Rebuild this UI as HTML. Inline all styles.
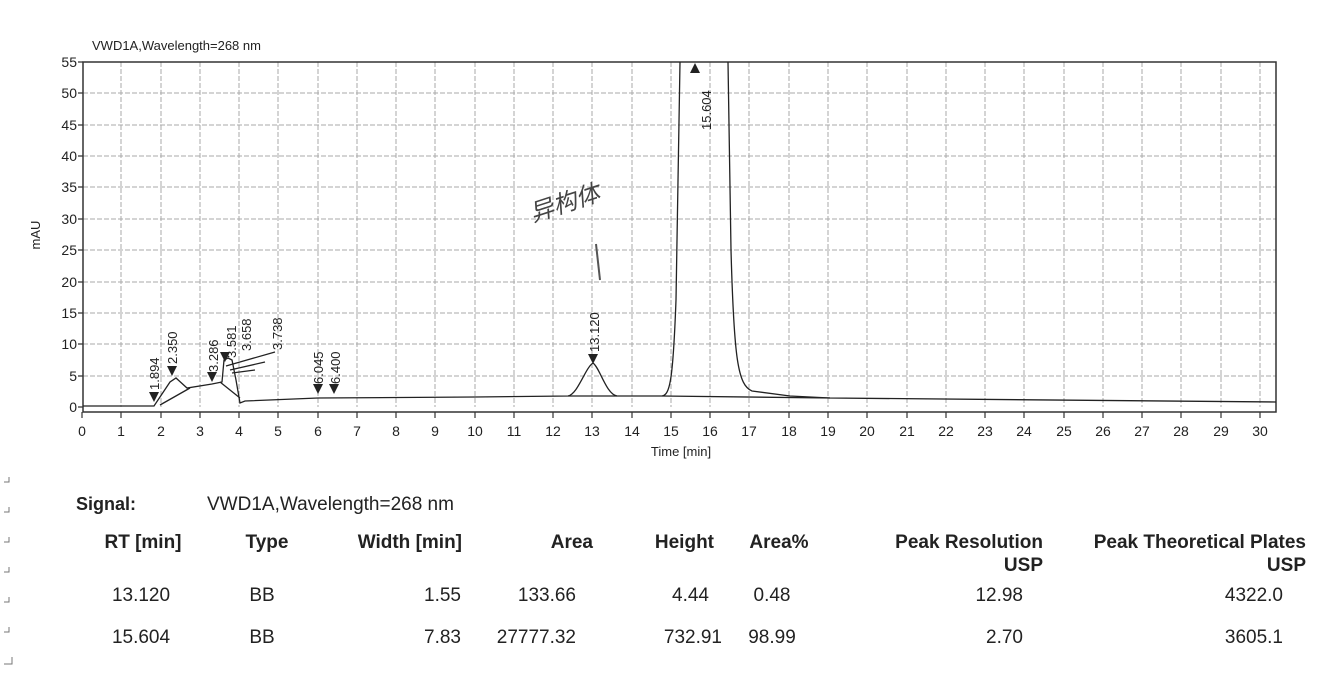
<!DOCTYPE html>
<html><head><meta charset="utf-8"><style>
html,body{margin:0;padding:0;background:#fff;}
svg{display:block;font-family:"Liberation Sans","Noto Sans CJK SC",sans-serif;}
</style></head><body>
<svg width="1339" height="691" viewBox="0 0 1339 691" xmlns="http://www.w3.org/2000/svg">
<rect width="1339" height="691" fill="#fff"/>
<text x="92" y="50" font-size="13" fill="#222">VWD1A,Wavelength=268 nm</text>
<g stroke="#aaa" stroke-width="1" stroke-dasharray="5,2">
<line x1="121" y1="62" x2="121" y2="407"/><line x1="161" y1="62" x2="161" y2="407"/><line x1="200" y1="62" x2="200" y2="407"/><line x1="239" y1="62" x2="239" y2="407"/><line x1="278" y1="62" x2="278" y2="407"/><line x1="318" y1="62" x2="318" y2="407"/><line x1="357" y1="62" x2="357" y2="407"/><line x1="396" y1="62" x2="396" y2="407"/><line x1="435" y1="62" x2="435" y2="407"/><line x1="475" y1="62" x2="475" y2="407"/><line x1="514" y1="62" x2="514" y2="407"/><line x1="553" y1="62" x2="553" y2="407"/><line x1="592" y1="62" x2="592" y2="407"/><line x1="632" y1="62" x2="632" y2="407"/><line x1="671" y1="62" x2="671" y2="407"/><line x1="710" y1="62" x2="710" y2="407"/><line x1="749" y1="62" x2="749" y2="407"/><line x1="789" y1="62" x2="789" y2="407"/><line x1="828" y1="62" x2="828" y2="407"/><line x1="867" y1="62" x2="867" y2="407"/><line x1="907" y1="62" x2="907" y2="407"/><line x1="946" y1="62" x2="946" y2="407"/><line x1="985" y1="62" x2="985" y2="407"/><line x1="1024" y1="62" x2="1024" y2="407"/><line x1="1064" y1="62" x2="1064" y2="407"/><line x1="1103" y1="62" x2="1103" y2="407"/><line x1="1142" y1="62" x2="1142" y2="407"/><line x1="1181" y1="62" x2="1181" y2="407"/><line x1="1221" y1="62" x2="1221" y2="407"/><line x1="1260" y1="62" x2="1260" y2="407"/>
<line x1="83" y1="93" x2="1276" y2="93"/><line x1="83" y1="125" x2="1276" y2="125"/><line x1="83" y1="156" x2="1276" y2="156"/><line x1="83" y1="187" x2="1276" y2="187"/><line x1="83" y1="219" x2="1276" y2="219"/><line x1="83" y1="250" x2="1276" y2="250"/><line x1="83" y1="282" x2="1276" y2="282"/><line x1="83" y1="313" x2="1276" y2="313"/><line x1="83" y1="344" x2="1276" y2="344"/><line x1="83" y1="376" x2="1276" y2="376"/>
</g>
<rect x="83" y="62" width="1193" height="350" fill="none" stroke="#333" stroke-width="1.5"/>
<g stroke="#333" stroke-width="1.2">
<path d="M78,62H83M78,93H83M78,125H83M78,156H83M78,187H83M78,219H83M78,250H83M78,282H83M78,313H83M78,344H83M78,376H83M78,407H83"/>
<path d="M82,412V418M121,412V418M161,412V418M200,412V418M239,412V418M278,412V418M318,412V418M357,412V418M396,412V418M435,412V418M475,412V418M514,412V418M553,412V418M592,412V418M632,412V418M671,412V418M710,412V418M749,412V418M789,412V418M828,412V418M867,412V418M907,412V418M946,412V418M985,412V418M1024,412V418M1064,412V418M1103,412V418M1142,412V418M1181,412V418M1221,412V418M1260,412V418"/>
</g>
<g font-size="14" fill="#222" text-anchor="end">
<text x="77" y="67">55</text><text x="77" y="98">50</text><text x="77" y="130">45</text><text x="77" y="161">40</text><text x="77" y="192">35</text><text x="77" y="224">30</text><text x="77" y="255">25</text><text x="77" y="287">20</text><text x="77" y="318">15</text><text x="77" y="349">10</text><text x="77" y="381">5</text><text x="77" y="412">0</text>
</g>
<text transform="translate(40,235) rotate(-90)" font-size="13" fill="#222" text-anchor="middle">mAU</text>
<g font-size="14" fill="#222" text-anchor="middle">
<text x="82" y="436">0</text><text x="121" y="436">1</text><text x="161" y="436">2</text><text x="200" y="436">3</text><text x="239" y="436">4</text><text x="278" y="436">5</text><text x="318" y="436">6</text><text x="357" y="436">7</text><text x="396" y="436">8</text><text x="435" y="436">9</text><text x="475" y="436">10</text><text x="514" y="436">11</text><text x="553" y="436">12</text><text x="592" y="436">13</text><text x="632" y="436">14</text><text x="671" y="436">15</text><text x="710" y="436">16</text><text x="749" y="436">17</text><text x="789" y="436">18</text><text x="828" y="436">19</text><text x="867" y="436">20</text><text x="907" y="436">21</text><text x="946" y="436">22</text><text x="985" y="436">23</text><text x="1024" y="436">24</text><text x="1064" y="436">25</text><text x="1103" y="436">26</text><text x="1142" y="436">27</text><text x="1181" y="436">28</text><text x="1221" y="436">29</text><text x="1260" y="436">30</text>
</g>
<text x="681" y="456" font-size="13" fill="#222" text-anchor="middle">Time [min]</text>
<g fill="none" stroke="#222" stroke-width="1.3">
<path d="M83,406 L154,406 L170,382 L176,378 L187,388 L212,384 L222,382 L224,360 L228,358 L232,360 L236,380 L240,403 L245,401 L318,398 L475,397 L568,396 C578,394 585,368 593,363 C600,368 606,394 617,396 L662,396 C670,395 673,380 676,300 L680,62 M728,62 L731,250 C734,360 738,385 752,391 L790,396 L830,398 L1276,402"/>
<path d="M160,405 L190,388 M220,382 L240,398 M226,366 L275,352 M230,370 L265,362 M232,373 L255,370 M568,396 L617,396 M662,396 L830,398"/>
<path d="M596,244 L600,280" stroke="#555" stroke-width="2"/>
</g>
<g fill="#222">
<path d="M149,392 L159,392 L154,402Z"/><path d="M167,366 L177,366 L172,376Z"/><path d="M207,372 L217,372 L212,382Z"/><path d="M220,352 L230,352 L225,362Z"/><path d="M313,384 L323,384 L318,394Z"/><path d="M329,384 L339,384 L334,394Z"/><path d="M588,354 L598,354 L593,364Z"/><path d="M690,73 L700,73 L695,63Z"/>
</g>
<g font-size="13" fill="#222">
<text transform="translate(159,390) rotate(-90)">1.894</text>
<text transform="translate(177,364) rotate(-90)">2.350</text>
<text transform="translate(218,372) rotate(-90)">3.286</text>
<text transform="translate(236,358) rotate(-90)">3.581</text>
<text transform="translate(251,351) rotate(-90)">3.658</text>
<text transform="translate(282,350) rotate(-90)">3.738</text>
<text transform="translate(323,384) rotate(-90)">6.045</text>
<text transform="translate(340,384) rotate(-90)">6.400</text>
<text transform="translate(599,352) rotate(-90)">13.120</text>
<text transform="translate(711,130) rotate(-90)">15.604</text>
</g>
<text transform="translate(533,222) rotate(-18)" font-size="24" fill="#444" font-style="italic">异构体</text>
<g fill="#222" font-size="19">
<text x="76" y="510" font-weight="bold" font-size="18">Signal:</text>
<text x="207" y="510">VWD1A,Wavelength=268 nm</text>
<g font-weight="bold">
<text x="143" y="548" text-anchor="middle">RT [min]</text>
<text x="267" y="548" text-anchor="middle">Type</text>
<text x="462" y="548" text-anchor="end">Width [min]</text>
<text x="593" y="548" text-anchor="end">Area</text>
<text x="714" y="548" text-anchor="end">Height</text>
<text x="779" y="548" text-anchor="middle">Area%</text>
<text x="1043" y="548" text-anchor="end">Peak Resolution</text>
<text x="1043" y="571" text-anchor="end">USP</text>
<text x="1306" y="548" text-anchor="end">Peak Theoretical Plates</text>
<text x="1306" y="571" text-anchor="end">USP</text>
</g>
<text x="141" y="601" text-anchor="middle">13.120</text>
<text x="262" y="601" text-anchor="middle">BB</text>
<text x="461" y="601" text-anchor="end">1.55</text>
<text x="576" y="601" text-anchor="end">133.66</text>
<text x="709" y="601" text-anchor="end">4.44</text>
<text x="772" y="601" text-anchor="middle">0.48</text>
<text x="1023" y="601" text-anchor="end">12.98</text>
<text x="1283" y="601" text-anchor="end">4322.0</text>
<text x="141" y="643" text-anchor="middle">15.604</text>
<text x="262" y="643" text-anchor="middle">BB</text>
<text x="461" y="643" text-anchor="end">7.83</text>
<text x="576" y="643" text-anchor="end">27777.32</text>
<text x="722" y="643" text-anchor="end">732.91</text>
<text x="772" y="643" text-anchor="middle">98.99</text>
<text x="1023" y="643" text-anchor="end">2.70</text>
<text x="1283" y="643" text-anchor="end">3605.1</text>
</g>
<g stroke="#777" fill="none" stroke-width="1">
<path d="M4,482 L9,482 L9,477"/><path d="M4,512 L9,512 L9,507"/><path d="M4,542 L9,542 L9,537"/><path d="M4,572 L9,572 L9,567"/><path d="M4,602 L9,602 L9,597"/><path d="M4,632 L9,632 L9,627"/><path d="M4,664 L12,664 L12,657"/>
</g>
</svg>
</body></html>
